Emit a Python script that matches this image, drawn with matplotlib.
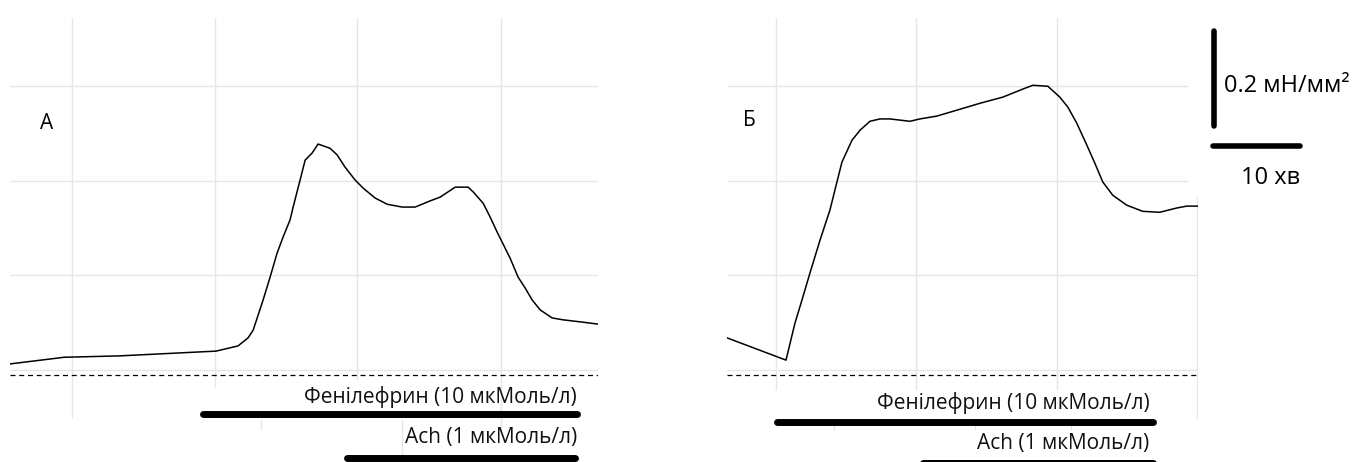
import matplotlib
matplotlib.use('Agg')
import matplotlib.pyplot as plt

plt.rcParams['font.family'] = ['Open Sans', 'DejaVu Sans']

# ---------- дані (час, хв; напруження, мН/мм²) ----------
t_a = [0, 6.21, 12.65, 23.69, 26.22, 27.37, 27.95, 29.10, 29.90, 30.71, 31.40, 32.20, 32.55,
       33.35, 33.93, 34.73, 35.42, 36.80, 37.61, 38.53, 39.68, 40.60, 41.98, 43.36, 45.08,
       46.58, 48.30, 49.45, 51.18, 52.67, 53.25, 54.40, 55.20, 56.01, 57.50, 58.42, 59.23,
       60.03, 60.95, 62.33, 63.60, 65.90, 67.6]
f_a = [0.013, 0.027, 0.030, 0.040, 0.051, 0.068, 0.084, 0.148, 0.196, 0.247, 0.281, 0.317,
       0.344, 0.401, 0.443, 0.458, 0.477, 0.468, 0.454, 0.428, 0.401, 0.384, 0.363, 0.350,
       0.344, 0.344, 0.357, 0.365, 0.386, 0.386, 0.376, 0.352, 0.323, 0.291, 0.236, 0.196,
       0.173, 0.148, 0.127, 0.110, 0.106, 0.101, 0.097]

t_b = [0, 6.79, 7.82, 8.63, 9.55, 10.70, 11.85, 12.42, 13.23, 14.38, 15.30, 16.45, 17.60,
       18.75, 21.05, 22.20, 24.15, 25.99, 29.10, 31.74, 34.04, 35.19, 36.92, 38.30, 39.22,
       40.25, 41.40, 42.32, 43.24, 44.39, 46.00, 47.84, 49.80, 51.75, 52.90, 54.2]
f_b = [0.068, 0.021, 0.099, 0.148, 0.205, 0.274, 0.338, 0.380, 0.439, 0.485, 0.506, 0.525,
       0.530, 0.530, 0.525, 0.530, 0.536, 0.546, 0.563, 0.576, 0.593, 0.601, 0.599, 0.576,
       0.555, 0.521, 0.475, 0.437, 0.397, 0.369, 0.348, 0.335, 0.333, 0.342, 0.346, 0.346]

# періоди дії препаратів (початок, кінець), хв
phe_a = (22.2, 65.2)
ach_a = (38.8, 65.0)
phe_b = (5.75, 49.0)
ach_b = (22.5, 49.0)

phe_label = 'Фенілефрин (10 мкМоль/л)'
ach_label = 'Ach (1 мкМоль/л)'

grid_y = [0.0, 0.2, 0.4, 0.6]
baseline = -0.0106

W, H = 1372, 462
fig = plt.figure(figsize=(W / 100, H / 100), dpi=100)

ylim = (-0.194, 0.743)
ax_a = fig.add_axes([10 / W, 0, 588 / W, 444 / H])
ax_b = fig.add_axes([727 / W, 0, 471 / W, 444 / H])
ax_a.set_xlim(0, 67.6)
ax_b.set_xlim(0, 54.2)
for ax in (ax_a, ax_b):
    ax.set_ylim(*ylim)
    ax.axis('off')

gc = '#e6e6e6'
glw = 1.0

# ---------- сітка А ----------
ax_a.hlines(grid_y, 0, 67.6, color=gc, lw=glw, zorder=0)
for x, y0 in zip([7.1, 23.6, 39.9, 56.4], [-0.101, -0.036, -0.021, -0.127]):
    ax_a.vlines(x, y0, ylim[1], color=gc, lw=glw, zorder=0)
ax_a.vlines(28.8, -0.127, -0.106, color=gc, lw=glw, zorder=0)
ax_a.vlines(45.1, -0.194, -0.106, color=gc, lw=glw, zorder=0)

# ---------- сітка Б ----------
ax_b.hlines(grid_y[2:], 0, 53.1, color=gc, lw=glw, zorder=0)
ax_b.hlines(grid_y[:2], 0, 54.2, color=gc, lw=glw, zorder=0)
for x in [5.6, 21.7, 37.95]:
    ax_b.vlines(x, -0.042, ylim[1], color=gc, lw=glw, zorder=0)
ax_b.vlines(54.1, -0.101, 0.365, color=gc, lw=glw, zorder=0)
for x in [12.3, 28.5, 39.6]:
    ax_b.vlines(x, -0.127, -0.112, color=gc, lw=glw, zorder=0)

# ---------- криві ----------
ax_a.plot(t_a, f_a, color='black', lw=1.1)
ax_b.plot(t_b, f_b, color='black', lw=1.1)

for ax, xmax in ((ax_a, 67.6), (ax_b, 54.2)):
    ax.plot([0, xmax], [baseline, baseline], color='black', lw=0.9,
            linestyle=(0, (4, 3)))

# ---------- смуги препаратів ----------
def drug_bars(ax, phe, ach, y_phe, y_ach, ty_phe, ty_ach, tx):
    ax.plot(phe, [y_phe, y_phe], color='black', lw=5, solid_capstyle='round', clip_on=False)
    ax.plot(ach, [y_ach, y_ach], color='black', lw=5, solid_capstyle='round', clip_on=False)
    ax.text(tx, ty_phe, phe_label, ha='right', va='center', fontsize=15, color='#111111')
    ax.text(tx, ty_ach, ach_label, ha='right', va='center', fontsize=15, color='#111111')

drug_bars(ax_a, phe_a, ach_a, -0.093, -0.186, -0.057, -0.143, 65.2)
drug_bars(ax_b, phe_b, ach_b, -0.110, -0.196, -0.070, -0.154, 48.6)

# ---------- підписи панелей ----------
ax_a.text(4.2, 0.520, 'А', fontsize=15, ha='center', va='center')
ax_b.text(2.6, 0.527, 'Б', fontsize=15, ha='center', va='center')

# ---------- масштабні відрізки ----------
ax_b.plot([56.0, 56.0], [0.515, 0.715], color='black', lw=4, solid_capstyle='round', clip_on=False)
ax_b.plot([55.9, 65.9], [0.473, 0.473], color='black', lw=4, solid_capstyle='round', clip_on=False)
ax_b.text(57.2, 0.600, '0.2 мН/мм²', fontsize=17, ha='left', va='center')
ax_b.text(62.5, 0.406, '10 хв', fontsize=17, ha='center', va='center')

fig.savefig('out.png', dpi=100)
